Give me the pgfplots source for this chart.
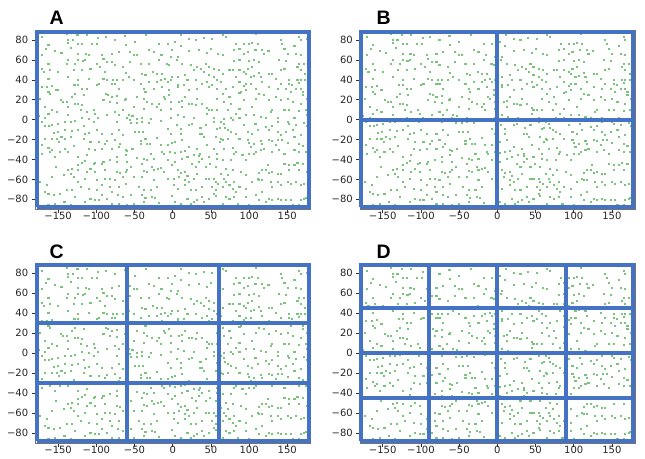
\documentclass[border=0pt]{standalone}
\usepackage{fontspec}
\setmainfont{DejaVu Sans}
\newfontfamily\labfont{Liberation Sans}
\usepackage{pgfplots}
\usepackage{pgfplotstable}
\pgfplotsset{compat=1.18}
\definecolor{gridblue}{RGB}{68,114,196}
\definecolor{ptgreen}{RGB}{120,196,120}
\pgfplotstableread[row sep=\\]{
x y\\
-171 83\\ -139 86\\ -125 85\\ -113 85\\ -98 82\\ -88 83\\ -76 80\\ -63 84\\ -137 80\\ -137 77\\
-131 80\\ -124 76\\ -119 76\\ -106 76\\ -99 76\\ -163 75\\ -62 75\\ -166 71\\ -154 69\\ -146 67\\
-171 65\\ -133 72\\ -124 66\\ -114 66\\ -110 65\\ -93 65\\ -91 61\\ -80 66\\ -71 68\\ -137 60\\
-124 60\\ -118 59\\ -163 56\\ -139 56\\ -128 56\\ -115 60\\ -100 56\\ -86 58\\ -80 58\\ -76 55\\
-172 51\\ -169 48\\ -161 50\\ -150 48\\ -130 50\\ -119 50\\ -108 51\\ -95 53\\ -89 48\\ -65 53\\
-62 47\\ -163 41\\ -137 43\\ -124 40\\ -110 41\\ -91 41\\ -86 40\\ -78 40\\ -73 40\\ -80 36\\
-76 36\\ -65 40\\ -172 33\\ -165 33\\ -158 34\\ -153 30\\ -151 30\\ -129 35\\ -124 35\\ -119 31\\
-113 31\\ -100 35\\ -97 36\\ -71 31\\ -85 25\\ -88 26\\ -80 23\\ -73 24\\ -62 21\\ -128 26\\
-117 25\\ -132 23\\ -147 20\\ -144 18\\ -139 18\\ -161 26\\ -163 28\\ -174 21\\ -124 16\\ -119 15\\
-128 16\\ -91 20\\ -82 18\\ -73 17\\ -63 20\\ -137 13\\ -121 10\\ -113 8\\ -104 10\\ -167 13\\
-158 10\\ -163 6\\ -152 8\\ -119 2\\ -110 1\\ -98 2\\ -86 5\\ -76 8\\ -71 5\\ -60 2\\
-176 4\\ -167 2\\ -66 10\\ -102 6\\ -137 5\\
-35 85\\ 11 85\\ 21 81\\ 40 82\\ 51 81\\ -18 76\\ -7 76\\ 3 78\\ 10 74\\ 30 80\\
-50 78\\ -56 68\\ -51 65\\ -47 65\\ -31 70\\ -25 68\\ -15 65\\ -1 70\\ 6 63\\ -3 63\\
21 69\\ 34 70\\ 45 67\\ 50 71\\ 59 66\\ -56 58\\ -42 56\\ -31 56\\ -18 60\\ -8 56\\
-5 55\\ 5 60\\ 12 56\\ 23 55\\ 32 53\\ 43 56\\ 47 53\\ 37 51\\ 54 51\\ 60 50\\
-58 43\\ -40 46\\ -36 45\\ -26 48\\ -21 46\\ -14 46\\ -10 41\\ -3 40\\ -1 43\\ 6 43\\
16 45\\ 27 50\\ 41 48\\ 47 45\\ 54 43\\ 58 40\\ -51 40\\ -42 36\\ -31 38\\ -21 38\\
-16 40\\ -7 38\\ 6 35\\ 14 35\\ 19 40\\ 30 40\\ 38 36\\ 45 38\\ 51 35\\ -38 31\\
-36 28\\ -25 31\\ -14 33\\ -5 30\\ 6 33\\ 21 30\\ 32 31\\ 47 33\\ 58 31\\ -12 23\\
-10 21\\ -5 25\\ -3 18\\ 8 18\\ 12 19\\ 16 23\\ 21 16\\ 25 16\\ 32 21\\ -38 21\\
-34 18\\ -27 16\\ -18 16\\ -47 23\\ -51 13\\ -38 11\\ -21 13\\ -16 10\\ -3 11\\ 12 13\\
30 15\\ 38 16\\ 45 12\\ 47 10\\ 51 10\\ 58 10\\ 58 21\\ -58 5\\ -53 4\\ -40 2\\
-29 1\\ -3 2\\ 6 5\\ 14 3\\ 27 2\\ 45 6\\ 54 2\\ -47 1\\ -56 0\\
65 85\\ 69 83\\ 109 86\\ 141 80\\ 165 83\\ 167 80\\ 176 81\\ 83 76\\ 93 76\\ 100 76\\
104 77\\ 111 76\\ 143 76\\ 159 74\\ 80 70\\ 87 71\\ 93 66\\ 98 68\\ 108 70\\ 117 70\\
119 66\\ 125 69\\ 146 71\\ 150 66\\ 161 66\\ 167 65\\ 178 70\\ 65 65\\ 80 59\\ 87 60\\
100 59\\ 106 60\\ 113 58\\ 139 60\\ 148 59\\ 165 56\\ 172 56\\ 104 53\\ 98 51\\ 93 48\\
96 46\\ 87 50\\ 74 50\\ 78 50\\ 65 46\\ 113 47\\ 126 46\\ 130 46\\ 141 50\\ 146 51\\
163 53\\ 167 50\\ 173 46\\ 63 38\\ 82 43\\ 102 43\\ 106 44\\ 115 43\\ 135 41\\ 152 40\\
163 40\\ 167 40\\ 173 40\\ 87 38\\ 96 36\\ 102 36\\ 117 38\\ 141 36\\ 152 36\\ 156 35\\
165 37\\ 69 31\\ 78 33\\ 93 34\\ 109 31\\ 126 33\\ 137 31\\ 148 31\\ 161 31\\ 167 31\\
178 33\\ 65 26\\ 87 27\\ 89 28\\ 96 30\\ 113 26\\ 119 25\\ 135 23\\ 154 28\\ 170 28\\
178 30\\ 74 23\\ 67 18\\ 76 16\\ 93 20\\ 109 21\\ 126 20\\ 141 20\\ 150 21\\ 170 25\\
175 21\\ 167 16\\ 157 18\\ 178 16\\ 130 10\\ 128 8\\ 104 13\\ 87 11\\ 72 10\\ 82 6\\
96 5\\ 106 5\\ 115 3\\ 146 10\\ 152 10\\ 165 9\\ 174 10\\ 176 5\\ 67 1\\ 76 2\\
87 2\\ 122 2\\ 137 2\\ 159 2\\
-172 -2\\ -167 -6\\ -162 -6\\ -158 -5\\ -150 -4\\ -141 -2\\ -134 -2\\ -128 -1\\ -117 -6\\ -103 -2\\
-73 -2\\ -156 -13\\ -151 -12\\ -141 -10\\ -132 -11\\ -124 -10\\ -115 -14\\ -110 -13\\ -100 -10\\ -93 -14\\
-80 -14\\ -71 -10\\ -65 -15\\ -167 -19\\ -158 -19\\ -152 -19\\ -149 -22\\ -146 -17\\ -141 -19\\ -134 -17\\
-130 -26\\ -163 -28\\ -158 -30\\ -148 -32\\ -141 -29\\ -117 -19\\ -108 -22\\ -97 -22\\ -86 -21\\ -89 -24\\
-76 -20\\ -69 -24\\ -172 -25\\ -171 -34\\ -161 -32\\ -154 -37\\ -137 -32\\ -124 -37\\ -113 -35\\ -110 -29\\
-102 -30\\ -93 -29\\ -80 -29\\ -71 -27\\ -62 -30\\ -73 -37\\ -62 -35\\ -124 -45\\ -119 -43\\ -115 -41\\
-104 -44\\ -102 -43\\ -93 -44\\ -91 -42\\ -82 -40\\ -73 -42\\ -153 -47\\ -137 -50\\ -132 -49\\ -124 -50\\
-113 -52\\ -108 -49\\ -102 -52\\ -89 -50\\ -73 -52\\ -69 -53\\ -62 -52\\ -174 -62\\ -165 -65\\ -158 -57\\
-143 -55\\ -134 -54\\ -130 -57\\ -124 -62\\ -115 -59\\ -100 -60\\ -89 -59\\ -82 -59\\ -76 -60\\ -65 -57\\
-62 -64\\ -132 -70\\ -121 -67\\ -110 -69\\ -100 -70\\ -93 -65\\ -82 -67\\ -71 -67\\ -167 -72\\ -163 -74\\
-156 -75\\ -148 -74\\ -139 -70\\ -93 -75\\ -80 -72\\ -72 -75\\ -65 -77\\ -142 -82\\ -128 -77\\ -115 -82\\
-108 -79\\ -102 -80\\ -97 -80\\ -86 -79\\ -71 -84\\ -154 -84\\ -163 -85\\ -134 -85\\ -119 -87\\ -80 -84\\
-55 -3\\ -47 -3\\ -40 -2\\ -31 -3\\ -16 -1\\ 5 -5\\ 10 -9\\ 21 -5\\ 25 -4\\ 36 -8\\
43 -5\\ 54 -2\\ 58 -9\\ -50 -12\\ -45 -12\\ -39 -12\\ -7 -9\\ -3 -14\\ 10 -14\\ 35 -14\\
38 -14\\ 41 -17\\ 56 -17\\ -36 -19\\ -21 -18\\ -1 -23\\ 3 -22\\ 12 -20\\ -7 -25\\ -16 -25\\
-42 -21\\ -42 -24\\ -34 -24\\ -30 -24\\ -53 -29\\ -60 -31\\ -29 -34\\ -14 -32\\ -12 -34\\ -4 -32\\
3 -33\\ 10 -32\\ 16 -31\\ 21 -27\\ 32 -29\\ 35 -34\\ 45 -25\\ 54 -29\\ 58 -34\\ -38 -39\\
-34 -40\\ -25 -39\\ -47 -38\\ -7 -40\\ 3 -42\\ 12 -39\\ 19 -37\\ 27 -35\\ 34 -36\\ 38 -39\\
47 -37\\ 58 -39\\ -60 -42\\ -55 -47\\ -40 -44\\ -27 -47\\ -20 -49\\ -16 -48\\ -25 -50\\ -34 -52\\
-38 -51\\ -12 -52\\ -1 -45\\ 6 -50\\ 10 -53\\ 16 -52\\ 25 -44\\ 30 -47\\ 34 -42\\ 43 -47\\
49 -44\\ 56 -47\\ -60 -50\\ 1 -59\\ 8 -57\\ 19 -56\\ 27 -59\\ 32 -54\\ 43 -59\\ 47 -59\\
54 -59\\ -51 -57\\ -40 -57\\ -25 -60\\ -7 -59\\ 16 -60\\ 21 -62\\ 56 -62\\ 59 -64\\ -45 -67\\
-38 -70\\ -29 -70\\ -21 -67\\ 1 -65\\ 6 -69\\ 16 -65\\ 23 -70\\ 30 -70\\ 38 -67\\ 51 -67\\
56 -70\\ -55 -75\\ -40 -75\\ -36 -78\\ -27 -77\\ -23 -78\\ -1 -76\\ 19 -79\\ 27 -82\\ 32 -80\\
38 -77\\ 47 -79\\ 54 -74\\ 56 -76\\ -51 -84\\ -38 -82\\ -18 -83\\ 3 -82\\ 10 -84\\ 23 -84\\
41 -82\\ 45 -86\\ -60 -85\\
63 -2\\ 67 -4\\ 78 0\\ 93 -5\\ 108 -4\\ 122 -7\\ 130 -6\\ 137 -2\\ 150 -2\\ 152 -4\\
161 -5\\ 172 -3\\ 175 -6\\ 61 -8\\ 68 -8\\ 72 -10\\ 76 -12\\ 82 -14\\ 98 -12\\ 104 -14\\
111 -10\\ 126 -10\\ 137 -12\\ 141 -15\\ 148 -12\\ 157 -10\\ 159 -17\\ 167 -15\\ 63 -19\\ 61 -22\\
65 -20\\ 72 -19\\ 87 -19\\ 98 -20\\ 100 -23\\ 106 -24\\ 102 -27\\ 115 -21\\ 117 -24\\ 126 -20\\
130 -21\\ 138 -20\\ 143 -20\\ 135 -25\\ 150 -23\\ 165 -24\\ 170 -26\\ 67 -29\\ 78 -28\\ 82 -32\\
91 -35\\ 96 -40\\ 100 -34\\ 106 -34\\ 109 -32\\ 115 -30\\ 119 -29\\ 130 -32\\ 139 -30\\ 146 -34\\
159 -30\\ 165 -32\\ 174 -32\\ 65 -40\\ 76 -40\\ 80 -34\\ 69 -49\\ 72 -55\\ 63 -54\\ 67 -59\\
78 -50\\ 89 -52\\ 96 -55\\ 113 -53\\ 117 -50\\ 124 -45\\ 122 -50\\ 126 -53\\ 130 -52\\ 137 -54\\
141 -54\\ 146 -44\\ 152 -45\\ 159 -45\\ 163 -43\\ 170 -44\\ 178 -45\\ 152 -50\\ 165 -50\\ 176 -52\\
69 -62\\ 74 -65\\ 80 -62\\ 87 -67\\ 104 -62\\ 111 -59\\ 113 -60\\ 117 -60\\ 128 -62\\ 130 -67\\
137 -62\\ 141 -65\\ 150 -62\\ 154 -64\\ 161 -62\\ 167 -65\\ 172 -64\\ 178 -65\\ 65 -67\\ 78 -69\\
82 -72\\ 96 -69\\ 109 -75\\ 117 -72\\ 126 -79\\ 130 -80\\ 137 -79\\ 141 -80\\ 148 -80\\ 154 -80\\
167 -80\\ 172 -79\\ 174 -78\\ 178 -80\\ 69 -77\\ 74 -79\\ 80 -77\\ 96 -77\\ 113 -80\\ 122 -82\\
65 -84\\ 72 -86\\ 85 -84\\ 100 -85\\ 139 -86\\ 157 -85\\ 165 -85\\
}\pts

\pgfplotsset{
  base/.style={
    scale only axis, width=275pt,
    xmin=-180, xmax=180, ymin=-90, ymax=90,
    clip=false,
  },
  panel/.style={
    base,
    xtick={-150,-100,-50,0,50,100,150},
    xticklabels={−150,−100,−50,0,50,100,150},
    ytick={-80,-60,-40,-20,0,20,40,60,80},
    yticklabels={−80,−60,−40,−20,0,20,40,60,80},
    tick pos=left, tick align=outside,
    major tick length=3.5pt,
    tick style={black!80, line width=0.6pt},
    axis line style={black!55, line width=0.6pt},
    ticklabel style={font=\fontsize{10}{12}\selectfont, text=black!85},
    xticklabel style={yshift=2pt, inner sep=1pt},
  },
  overlay/.style={base, hide axis},
  greendots/.style={only marks, mark=square*, mark size=0.55pt, color=ptgreen,
    mark options={draw=none, fill=ptgreen}},
  bline/.style={gridblue, line width=4pt, no marks},
}

\begin{document}
\begin{tikzpicture}
\useasboundingbox (0,0) rectangle (645pt,-458pt);

% Panel A
\begin{axis}[panel, height=179.2pt, at={(35.2pt,-209.3pt)}, anchor=south west]
\addplot[greendots] table {\pts};
\end{axis}
\begin{axis}[overlay, height=179.2pt, at={(35.2pt,-209.3pt)}, anchor=south west]
\addplot[bline] coordinates {(-178,-88) (178,-88) (178,88) (-178,88) (-178,-88)};
\end{axis}

% Panel B
\begin{axis}[panel, height=179.2pt, at={(359.8pt,-209.3pt)}, anchor=south west]
\addplot[greendots] table {\pts};
\end{axis}
\begin{axis}[overlay, height=179.2pt, at={(359.8pt,-209.3pt)}, anchor=south west]
\addplot[bline] coordinates {(0,-88) (0,88)};
\addplot[bline] coordinates {(-178,0) (178,0)};
\addplot[bline] coordinates {(-178,-88) (178,-88) (178,88) (-178,88) (-178,-88)};
\end{axis}

% Panel C
\begin{axis}[panel, height=180pt, at={(35.2pt,-443.3pt)}, anchor=south west]
\addplot[greendots] table {\pts};
\end{axis}
\begin{axis}[overlay, height=180pt, at={(35.2pt,-443.3pt)}, anchor=south west]
\addplot[bline] coordinates {(-60,-88) (-60,88)};
\addplot[bline] coordinates {(60,-88) (60,88)};
\addplot[bline] coordinates {(-178,-30) (178,-30)};
\addplot[bline] coordinates {(-178,30) (178,30)};
\addplot[bline] coordinates {(-178,-88) (178,-88) (178,88) (-178,88) (-178,-88)};
\end{axis}

% Panel D
\begin{axis}[panel, height=180pt, at={(359.8pt,-443.3pt)}, anchor=south west]
\addplot[greendots] table {\pts};
\end{axis}
\begin{axis}[overlay, height=180pt, at={(359.8pt,-443.3pt)}, anchor=south west]
\addplot[bline] coordinates {(-90,-88) (-90,88)};
\addplot[bline] coordinates {(0,-88) (0,88)};
\addplot[bline] coordinates {(90,-88) (90,88)};
\addplot[bline] coordinates {(-178,-45) (178,-45)};
\addplot[bline] coordinates {(-178,0) (178,0)};
\addplot[bline] coordinates {(-178,45) (178,45)};
\addplot[bline] coordinates {(-178,-88) (178,-88) (178,88) (-178,88) (-178,-88)};
\end{axis}

\node[anchor=base west, inner sep=0pt, font=\labfont\bfseries\fontsize{19.5}{20}\selectfont] at (49.3pt,-24pt) {A};
\node[anchor=base west, inner sep=0pt, font=\labfont\bfseries\fontsize{19.5}{20}\selectfont] at (376.5pt,-24pt) {B};
\node[anchor=base west, inner sep=0pt, font=\labfont\bfseries\fontsize{19.5}{20}\selectfont] at (49.3pt,-258.3pt) {C};
\node[anchor=base west, inner sep=0pt, font=\labfont\bfseries\fontsize{19.5}{20}\selectfont] at (376.5pt,-258.3pt) {D};
\end{tikzpicture}
\end{document}
